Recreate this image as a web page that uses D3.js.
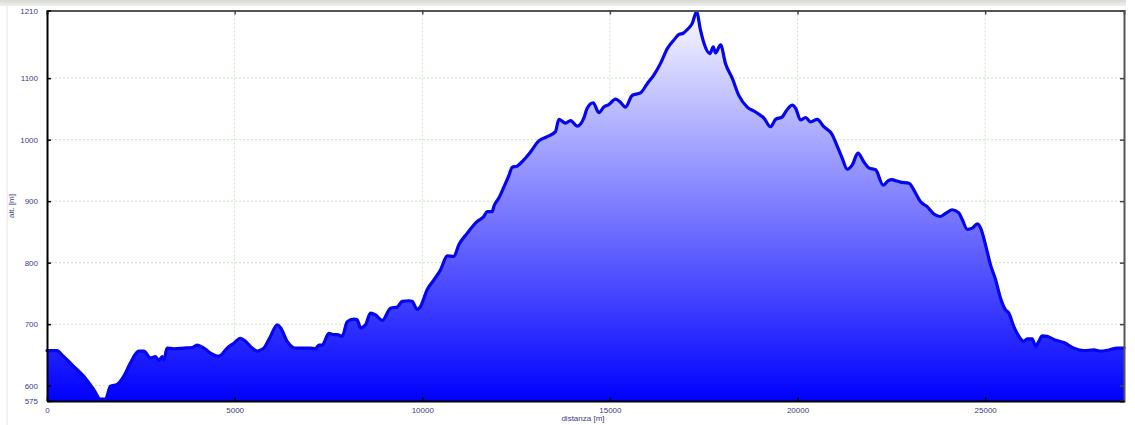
<!DOCTYPE html>
<html>
<head>
<meta charset="utf-8">
<script src="https://cdn.jsdelivr.net/npm/d3@7"></script>
<style>
  body { margin: 0; background: #fff; }
  svg { display: block; font-family: "Liberation Sans", Arial, sans-serif; }
</style>
</head>
<body>
<svg width="1135" height="425"></svg>
<script>
// Profile data: distance [m] and altitude [m].
const dist = [0, 270, 400, 715, 980, 1250, 1425, 1560, 1690, 1870, 2045, 2225, 2445, 2580, 2760, 2890, 2980, 3070, 3115, 3200,
  3380, 3645, 3870, 4000, 4180, 4355, 4580, 4800, 4980, 5155, 5290, 5470, 5600, 5690, 5780, 5955, 6135, 6225, 6400, 6625,
  6845, 7020, 7155, 7245, 7335, 7510, 7645, 7735, 7865, 8000, 8175, 8265, 8355, 8490, 8620, 8755, 8935, 9155, 9335, 9465,
  9640, 9730, 9865, 9955, 10130, 10310, 10485, 10665, 10840, 10975, 11200, 11465, 11640, 11730, 11865, 11905, 12040, 12175, 12310, 12395,
  12530, 12705, 12885, 13105, 13330, 13550, 13640, 13820, 13950, 14130, 14305, 14395, 14555, 14705, 14840, 14970, 15150, 15260, 15415, 15595,
  15815, 15995, 16170, 16350, 16530, 16705, 16840, 16955, 17060, 17195, 17310, 17415, 17505, 17665, 17755, 17815, 17950, 18080, 18260, 18435,
  18660, 18880, 19105, 19280, 19415, 19595, 19680, 19860, 19950, 20080, 20215, 20350, 20525, 20700, 20925, 21060, 21190, 21325, 21460, 21610,
  21765, 21900, 22080, 22285, 22410, 22525, 22615, 22745, 22970, 23145, 23280, 23455, 23635, 23795, 23945, 24125, 24300, 24390, 24525, 24655,
  24790, 24880, 25010, 25145, 25280, 25410, 25545, 25630, 25765, 25900, 26030, 26120, 26255, 26345, 26430, 26520, 26655, 26830, 27100, 27365,
  27630, 27900, 28075, 28300, 28520, 28700];
const alt = [657, 657, 650, 631, 615, 593, 578, 578, 599, 602, 615, 637, 656, 656, 645, 647, 641, 647, 642, 661,
  660, 661, 662, 666, 661, 653, 648, 661, 669, 677, 672, 661, 656, 658, 661, 680, 699, 694, 672, 661,
  661, 661, 660, 666, 666, 685, 683, 683, 680, 704, 708, 707, 694, 699, 718, 715, 706, 726, 728, 737,
  738, 737, 724, 729, 756, 772, 788, 811, 810, 829, 848, 867, 875, 883, 883, 891, 905, 923, 942, 955,
  957, 967, 980, 998, 1005, 1013, 1033, 1027, 1031, 1022, 1035, 1051, 1060, 1044, 1053, 1057, 1066, 1062, 1053, 1072,
  1076, 1091, 1105, 1124, 1148, 1162, 1171, 1173, 1179, 1189, 1208, 1178, 1157, 1140, 1151, 1141, 1154, 1124, 1100, 1072,
  1053, 1045, 1035, 1021, 1033, 1037, 1045, 1056, 1051, 1032, 1036, 1029, 1033, 1021, 1008, 989, 970, 952, 959, 978,
  964, 954, 951, 926, 933, 935, 933, 931, 929, 913, 899, 891, 879, 875, 880, 886, 881, 870, 854, 856,
  863, 856, 829, 796, 772, 742, 723, 718, 696, 680, 672, 676, 676, 664, 672, 681, 680, 675, 670, 661,
  657, 658, 656, 658, 661, 661];

// Axis ticks
const xTicks = [0, 5000, 10000, 15000, 20000, 25000];
const yTicks = [575, 600, 700, 800, 900, 1000, 1100, 1210];
const xLims = [0, 28700];
const yLims = [575, 1210];

const data = d3.zip(dist, alt);

const svg = d3.select("svg");
const plot = { left: 47, right: 1124, top: 10.5, bottom: 401 };

const xScale = d3.scaleLinear().domain(xLims).range([plot.left, plot.right]);
const yScale = d3.scaleLinear().domain(yLims).range([plot.bottom, plot.top]);

// window-ish border bits around the picture
const defs = svg.append("defs");
const bandGrad = defs.append("linearGradient")
  .attr("id", "band").attr("x1", 0).attr("x2", 0).attr("y1", 0).attr("y2", 1);
bandGrad.append("stop").attr("offset", "0%").attr("stop-color", "#d8d8d4");
bandGrad.append("stop").attr("offset", "100%").attr("stop-color", "#efefec");
svg.append("rect").attr("x", 0).attr("y", 0).attr("width", 1126).attr("height", 6).attr("fill", "url(#band)");
svg.append("line").attr("x1", 7).attr("x2", 7).attr("y1", 6).attr("y2", 425)
  .attr("stroke", "#e4e4e4").attr("stroke-width", 1);

// Fill gradient: almost white on top, pure blue at the bottom
const fillGrad = defs.append("linearGradient")
  .attr("id", "fill-grad")
  .attr("gradientUnits", "userSpaceOnUse")
  .attr("x1", 0).attr("x2", 0)
  .attr("y1", plot.top).attr("y2", plot.bottom);
fillGrad.append("stop").attr("offset", "0%").attr("stop-color", "#fafaff");
fillGrad.append("stop").attr("offset", "100%").attr("stop-color", "#0000ff");

// Grid lines (light green, dotted)
const grid = svg.append("g");
grid.selectAll("line.gx").data(xTicks.slice(1)).enter().append("line")
  .attr("x1", d => xScale(d)).attr("x2", d => xScale(d))
  .attr("y1", plot.top).attr("y2", plot.bottom)
  .attr("stroke", "#c9e3c9").attr("stroke-width", 1).attr("stroke-dasharray", "2,2");
grid.selectAll("line.gy").data(yTicks.slice(1)).enter().append("line")
  .attr("x1", plot.left).attr("x2", plot.right)
  .attr("y1", d => yScale(d)).attr("y2", d => yScale(d))
  .attr("stroke", "#c9e3c9").attr("stroke-width", 1).attr("stroke-dasharray", "2,2");

// Area + profile line (a bit of smoothing like the original)
const area = d3.area()
  .curve(d3.curveMonotoneX)
  .x(d => xScale(d[0]))
  .y0(plot.bottom)
  .y1(d => yScale(d[1]));
const line = d3.line()
  .curve(d3.curveMonotoneX)
  .x(d => xScale(d[0]))
  .y(d => yScale(d[1]));

svg.append("path").datum(data)
  .attr("d", area)
  .attr("fill", "url(#fill-grad)");
svg.append("path").datum(data)
  .attr("d", line)
  .attr("fill", "none")
  .attr("stroke", "#0505f0")
  .attr("stroke-width", 3.2)
  .attr("stroke-linejoin", "round")
  .attr("stroke-linecap", "round");

// Top and right frame with inward ticks
const topAxis = svg.append("g")
  .attr("transform", `translate(0,${plot.top})`)
  .call(d3.axisTop(xScale).tickValues(xTicks).tickSize(-4).tickFormat(""));
const rightAxis = svg.append("g")
  .attr("transform", `translate(${plot.right},0)`)
  .call(d3.axisRight(yScale).tickValues(yTicks).tickSize(-4).tickFormat(""));
[topAxis, rightAxis].forEach(a => {
  a.select(".domain").attr("stroke", "#555").attr("stroke-width", 2);
  a.selectAll(".tick line").attr("stroke", "#444").attr("stroke-width", 1.5);
});

// Bottom axis
const xAxis = svg.append("g")
  .attr("transform", `translate(0,${plot.bottom})`)
  .call(d3.axisBottom(xScale).tickValues(xTicks).tickFormat(d3.format("d"))
    .tickSize(-4).tickPadding(6).tickSizeOuter(0));

// Left axis
const yAxis = svg.append("g")
  .attr("transform", `translate(${plot.left},0)`)
  .call(d3.axisLeft(yScale).tickValues(yTicks).tickFormat(d3.format("d"))
    .tickSize(-4).tickPadding(9).tickSizeOuter(0));

[xAxis, yAxis].forEach(a => {
  a.select(".domain").attr("stroke", "#000").attr("stroke-width", 2);
  a.selectAll(".tick line").attr("stroke", "#000").attr("stroke-width", 1.5);
  a.selectAll("text")
    .style("font-size", "8px")
    .style("fill", "#3c3c8c");
});

// Axis titles
svg.append("text")
  .attr("x", 583).attr("y", 421)
  .attr("text-anchor", "middle")
  .style("font-size", "8px")
  .style("fill", "#3c3c8c")
  .text("distanza [m]");
svg.append("text")
  .attr("transform", "translate(14,206) rotate(-90)")
  .attr("text-anchor", "middle")
  .style("font-size", "8px")
  .style("fill", "#3c3c8c")
  .text("alt. [m]");
</script>
</body>
</html>
